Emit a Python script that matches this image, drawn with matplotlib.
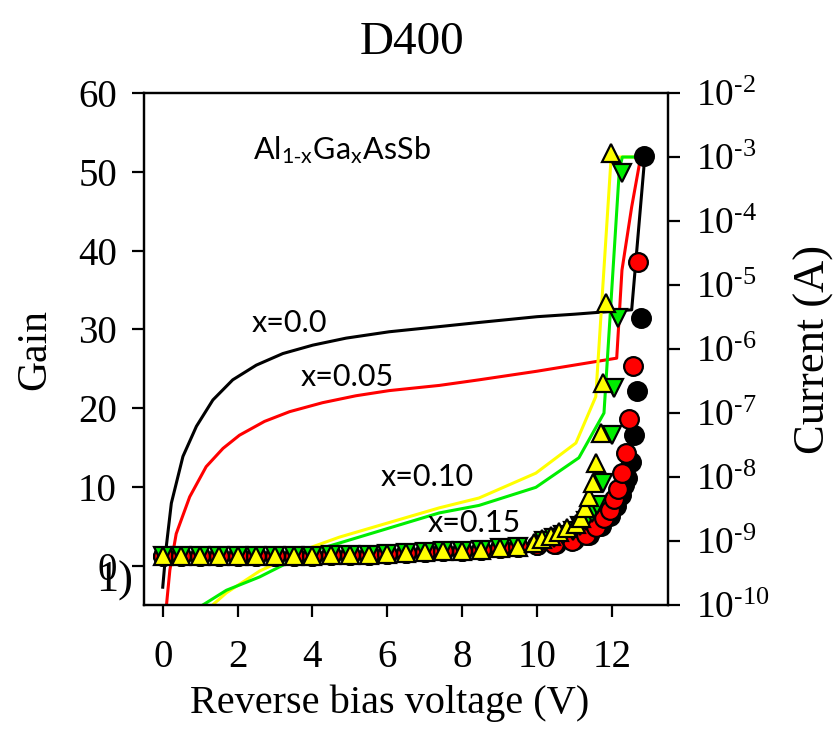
import math
import matplotlib.pyplot as plt
import matplotlib.ticker as mticker

plt.rcParams['mathtext.fontset'] = 'stix'

serif = 'Liberation Serif'
sans = ['Lato', 'DejaVu Sans']

# gain data (left axis), voltage in V
v_low = [0, 0.5, 1, 1.5, 2, 2.5, 3, 3.5, 4, 4.5, 5, 5.5, 6, 6.5, 7, 7.5, 8, 8.5, 9, 9.5]
g_low = [1.2, 1.2, 1.2, 1.2, 1.2, 1.2, 1.2, 1.2, 1.25, 1.3, 1.35, 1.4, 1.5, 1.6,
         1.7, 1.8, 1.9, 2.0, 2.2, 2.4]

v_g00 = v_low + [10.0, 10.5, 11.0, 11.4, 11.7, 11.95, 12.1, 12.25, 12.33, 12.4, 12.5,
                 12.59, 12.67, 12.77, 12.85]
g_g00 = g_low + [2.6, 2.8, 3.2, 3.9, 5.0, 6.3, 7.6, 9.0, 10.3, 11.1, 13.2, 16.6, 22.2,
                 31.5, 52.0]

v_g05 = v_low + [10.0, 10.45, 10.93, 11.3, 11.57, 11.79, 11.95, 12.05, 12.17, 12.27,
                 12.37, 12.45, 12.56, 12.69]
g_g05 = g_low + [2.6, 2.7, 3.1, 3.9, 4.9, 6.1, 7.1, 8.4, 9.7, 11.8, 14.3, 18.6, 25.4, 38.5]

v_g10 = v_low + [9.92, 10.13, 10.37, 10.59, 10.8, 11.04, 11.17, 11.28, 11.39, 11.49,
                 11.57, 11.71, 11.76, 11.84, 11.97]
g_g10 = g_low + [2.9, 3.4, 3.8, 4.3, 4.8, 5.3, 6.1, 7.3, 8.7, 10.5, 13.0, 16.8, 23.2,
                 33.4, 52.4]

v_g15 = v_low + [10.2, 10.45, 10.7, 10.95, 11.15, 11.3, 11.47, 11.6, 11.76, 12.0, 12.05,
                 12.16, 12.27]
g_g15 = g_low + [3.1, 3.5, 3.9, 4.4, 5.0, 5.7, 6.7, 7.7, 10.5, 16.6, 22.5, 31.5, 49.9]

# current data (right axis), A
v_i00 = [0.0, 0.1, 0.23, 0.54, 0.9, 1.34, 1.87, 2.5, 3.21, 4.01, 4.9, 6.05, 7.39, 8.45,
         10.0, 11.0, 12.53, 12.88, 12.9]
i_i00 = [1.9e-10, 8.7e-10, 3.9e-9, 2.1e-8, 6.2e-8, 1.6e-7, 3.3e-7, 5.6e-7, 8.5e-7,
         1.15e-6, 1.48e-6, 1.86e-6, 2.24e-6, 2.6e-6, 3.2e-6, 3.5e-6, 4.1e-6, 1e-3, 1e-3]

v_i05 = [0.1, 0.19, 0.36, 0.72, 1.16, 1.61, 2.05, 2.72, 3.39, 4.27, 5.16, 6.05, 7.39,
         8.45, 10.0, 12.13, 12.27, 12.53, 12.77, 12.9]
i_i05 = [1e-10, 3.5e-10, 1.3e-9, 4.9e-9, 1.45e-8, 2.8e-8, 4.5e-8, 7.4e-8, 1.05e-7,
         1.45e-7, 1.86e-7, 2.24e-7, 2.7e-7, 3.3e-7, 4.5e-7, 7.2e-7, 1.7e-5, 1.66e-4,
         1e-3, 1e-3]

v_i10 = [1.33, 1.7, 2.59, 3.92, 4.72, 7.39, 8.45, 9.97, 11.04, 11.57, 11.97, 12.05, 12.9]
i_i10 = [1e-10, 1.55e-10, 3.4e-10, 7.8e-10, 1.15e-9, 3.3e-9, 4.7e-9, 1.15e-8, 3.4e-8,
         1.8e-7, 7.9e-4, 1e-3, 1e-3]

v_i15 = [1.07, 1.7, 2.59, 3.92, 4.72, 7.39, 8.45, 9.97, 11.12, 11.79, 12.2, 12.28, 12.9]
i_i15 = [1e-10, 1.7e-10, 2.75e-10, 6.8e-10, 9.3e-10, 2.75e-9, 3.6e-9, 6.9e-9, 2.0e-8,
         1e-7, 6.3e-4, 1e-3, 1e-3]

fig = plt.figure(figsize=(8.33, 7.43), dpi=100)
ax = fig.add_axes([0.1729, 0.1857, 0.629, 0.6891])
ax2 = ax.twinx()
ax.set_zorder(ax2.get_zorder() + 1)
ax.patch.set_visible(False)

lw = 2.2
ax2.plot(v_i00, i_i00, color='black', lw=lw)
ax2.plot(v_i05, i_i05, color='#ff0000', lw=lw)
ax2.plot(v_i10, i_i10, color='#ffff00', lw=lw)
ax2.plot(v_i15, i_i15, color='#00ee00', lw=lw)
ax2.set_yscale('log')
ax2.set_ylim(1e-10, 1e-2)

ms = 13.5
ax.plot(v_g00, g_g00, 'o', ms=ms, mfc='black', mec='black', mew=1.6, ls='none')
ax.plot(v_g05, g_g05, 'o', ms=ms, mfc='#ff0000', mec='black', mew=1.6, ls='none')
ax.plot(v_g15, g_g15, 'v', ms=ms, mfc='#00ee00', mec='black', mew=1.6, ls='none')
ax.plot(v_g10, g_g10, '^', ms=ms, mfc='#ffff00', mec='black', mew=1.6, ls='none')

ax.set_xlim(-0.5, 13.5)
ax.set_ylim(-5, 60)
ax.set_xticks([0, 2, 4, 6, 8, 10, 12])
ax.set_yticks([0, 10, 20, 30, 40, 50, 60])

ax2.yaxis.set_major_locator(mticker.LogLocator(base=10, numticks=20))
ax2.yaxis.set_minor_locator(mticker.NullLocator())
ax2.yaxis.set_major_formatter(mticker.FuncFormatter(
    lambda val, pos: r'$\mathregular{10^{\text{-}%d}}$' % abs(round(math.log10(val)))))

for a in (ax, ax2):
    for s in a.spines.values():
        s.set_linewidth(1.6)
ax.tick_params(axis='both', direction='out', length=8.5, width=1.6, labelsize=28)
ax.tick_params(axis='x', pad=16)
ax.tick_params(axis='y', pad=11)
ax2.tick_params(axis='y', direction='out', length=8.5, width=1.6, labelsize=27, pad=12)
for lab in ax.get_xticklabels() + ax.get_yticklabels() + ax2.get_yticklabels():
    lab.set_fontfamily(serif)

ax.set_xlabel('Reverse bias voltage (V)', fontsize=29, fontfamily=serif, labelpad=6,
              x=0.469)
ax.set_ylabel('Gain', fontsize=30, fontfamily=serif, labelpad=17)
ax2.set_ylabel('Current (A)', fontsize=32, fontfamily=serif, labelpad=17)
ax.set_title('D400', fontsize=34, fontfamily=serif, pad=28, x=0.511)

ax.text(2.4, 52.7, r'Al$_{\mathregular{1\text{-}x}}$Ga$_{\mathregular{x}}$AsSb',
        fontsize=22, family=sans, va='center', ha='left')
ax.text(3.39, 30.8, 'x=0.0', fontsize=22, family=sans, ha='center', va='center')
ax.text(4.93, 23.9, 'x=0.05', fontsize=22, family=sans, ha='center', va='center')
ax.text(7.07, 11.3, 'x=0.10', fontsize=22, family=sans, ha='center', va='center')
ax.text(8.32, 5.4, 'x=0.15', fontsize=22, family=sans, ha='center', va='center')

fig.text(96 / 833, 1 - 581 / 743, '1)', fontsize=32, family=serif, ha='left', va='center')

fig.savefig('out.png', dpi=100)
